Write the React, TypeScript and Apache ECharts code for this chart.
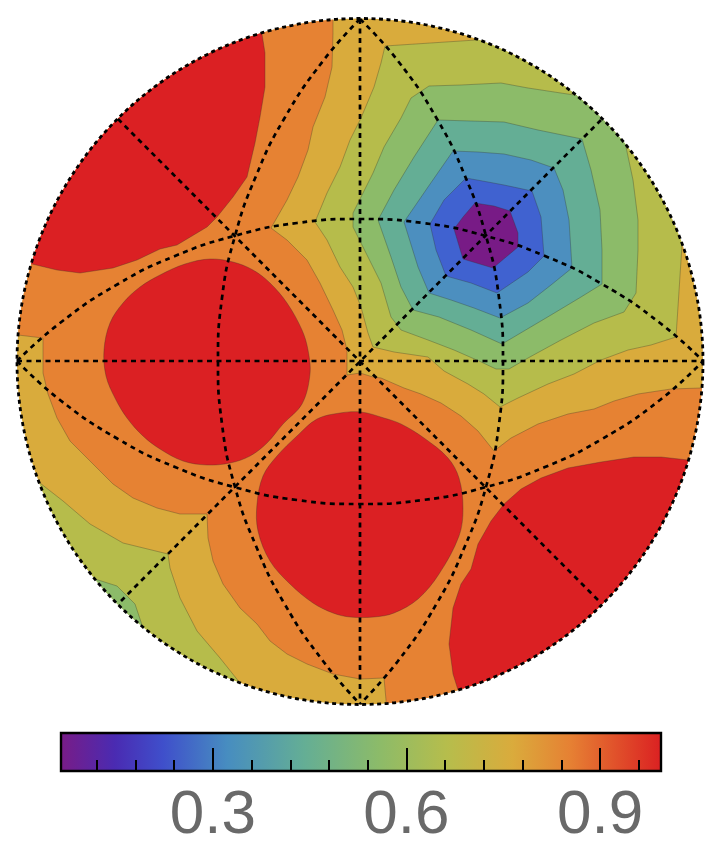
import React, { useEffect, useRef } from "react";
import * as echarts from "echarts";

type P = [number, number];

// Contour bands (picture units, y downward).
// Points outside the disc are cut off by the disc's clip.
const bandOrange: P[] = [[333,-10],[333,21],[333,33],[332,67],[325,97],[313,127],[308,150],[298,177],[287,200],[271,228],[287,240],[307,260],[320,283],[333,310],[342,330],[347,350],[347,375],[360,373],[373,377],[381,378],[404,388],[421,394],[441,403],[461,416],[478,431],[494,451],[511,438],[538,424],[568,414],[594,409],[614,401],[638,394],[671,389],[701,388],[735,388],[735,735],[386,735],[386,700],[384,678],[360,679],[333,674],[307,664],[287,654],[270,641],[257,624],[240,608],[223,584],[213,561],[208,538],[207,514],[180,514],[157,508],[133,498],[113,484],[93,464],[70,441],[57,418],[48,394],[43,373],[43,338],[18,335],[-15,335],[-15,-10]];
const redUpperLeft: P[] = [[262,-10],[262,34],[265,53],[265,87],[260,117],[255,143],[247,177],[233,197],[217,217],[207,227],[177,245],[160,249],[137,260],[113,268],[80,273],[57,270],[32,264],[-15,255],[-15,-10]];
const redLeft: P[] = [[104,350],[110,323],[123,303],[140,287],[160,275],[185,264],[210,259],[233,262],[253,270],[270,283],[287,303],[302,330],[308,350],[310,374],[302,404],[283,424],[267,443],[250,456],[230,463],[207,465],[183,461],[160,449],[143,436],[127,418],[115,398],[106,376]];
const redCentre: P[] = [[361,412],[340,413],[317,419],[297,436],[277,456],[263,476],[257,504],[258,531],[270,561],[290,584],[313,603],[333,613],[350,617],[374,617],[394,613],[418,599],[439,574],[459,536],[463,508],[459,478],[448,458],[424,438],[401,424],[384,418]];
const redLowerRight: P[] = [[688,460],[661,457],[634,457],[601,462],[568,468],[541,478],[521,489],[504,504],[491,521],[478,544],[471,569],[461,584],[453,608],[449,644],[453,674],[458,690],[465,735],[735,735],[735,470]];
const oliveUpper: P[] = [[476,40],[385,46],[381,63],[374,87],[361,118],[350,140],[340,167],[327,193],[315,222],[327,240],[340,267],[353,287],[361,307],[368,333],[373,347],[394,352],[428,357],[444,371],[468,384],[484,394],[500,407],[518,398],[548,384],[574,374],[601,360],[628,350],[651,345],[676,337],[678,307],[682,245],[735,245],[735,-10],[476,-10]];
const oliveLower: P[] = [[40,483],[63,501],[90,524],[123,543],[168,554],[170,568],[180,598],[197,631],[220,658],[240,683],[250,735],[-15,735],[-15,470]];
const greenUpper: P[] = [[626,147],[633,180],[638,220],[638,250],[636,293],[624,312],[594,323],[561,340],[528,358],[509,369],[496,369],[479,361],[454,350],[428,340],[401,330],[391,317],[381,283],[371,263],[361,243],[353,227],[353,213],[361,197],[373,173],[384,147],[401,118],[411,98],[429,86],[461,85],[501,83],[528,88],[574,95],[660,90]];
const greenLower: P[] = [[95,579],[117,586],[135,604],[143,628],[100,655],[70,600]];
const teal: P[] = [[438,120],[471,121],[504,122],[538,130],[582,139],[591,170],[600,210],[602,250],[602,284],[581,297],[551,315],[502,344],[471,330],[439,317],[413,310],[401,287],[391,257],[378,220],[394,190],[414,157]];
const steel: P[] = [[453,151],[478,152],[504,154],[531,160],[554,168],[563,190],[569,220],[572,268],[551,285],[528,303],[500,318],[474,308],[451,300],[429,293],[418,267],[404,222],[428,187]];
const blue: P[] = [[466,178],[488,182],[504,185],[532,191],[541,217],[544,256],[528,272],[497,293],[471,283],[446,276],[436,250],[430,224],[444,200]];
const purple: P[] = [[475,203],[494,206],[510,211],[518,233],[518,247],[493,268],[463,259],[454,229],[463,217]];

const bands: { pts: P[]; color: string; round: number }[] = [
  { pts: bandOrange, color: "#E68233", round: 0 },
  { pts: redUpperLeft, color: "#DB2023", round: 0 },
  { pts: redLeft, color: "#DB2023", round: 0.35 },
  { pts: redCentre, color: "#DB2023", round: 0.35 },
  { pts: redLowerRight, color: "#DB2023", round: 0 },
  { pts: oliveUpper, color: "#B6BC4B", round: 0 },
  { pts: oliveLower, color: "#B6BC4B", round: 0 },
  { pts: greenUpper, color: "#8CBB69", round: 0 },
  { pts: greenLower, color: "#8CBB69", round: 0 },
  { pts: teal, color: "#64AE95", round: 0 },
  { pts: steel, color: "#4C8FBF", round: 0 },
  { pts: blue, color: "#4062D0", round: 0 },
  { pts: purple, color: "#781B86", round: 0 },
];

// Disc
const discCentre: P = [360, 361.5];
const discRadius = 343;
const discColor = "#D9AB3C";

// Dashed guide lines
const straightH: P[] = [[17,361],[703,361]];
const straightV: P[] = [[360,19],[360,704]];
const diagA: P[] = [[118,119],[601,603]];
const diagB: P[] = [[601,120],[118,604]];
const arcTop: P[] = [[17,361],[60,323],[118,284],[175,256],[234,236],[297,223],[360,219],[423,223],[486,236],[545,256],[602,284],[660,323],[703,361]];
const arcBottom: P[] = [[17,361],[60,400],[118,439],[175,467],[234,487],[297,500],[360,504],[423,500],[486,487],[545,467],[602,439],[660,400],[703,361]];
const arcLeft: P[] = [[360,19],[323,61],[284,119],[256,176],[235,236],[222,298],[218,361],[222,424],[235,487],[256,546],[284,603],[323,661],[360,704]];
const arcRight: P[] = [[360,19],[398,61],[437,119],[465,176],[486,236],[499,298],[503,361],[499,424],[486,487],[465,546],[437,603],[398,661],[360,704]];
const guides: { pts: P[]; smooth: boolean }[] = [
  { pts: straightH, smooth: false },
  { pts: straightV, smooth: false },
  { pts: diagA, smooth: false },
  { pts: diagB, smooth: false },
  { pts: arcTop, smooth: true },
  { pts: arcBottom, smooth: true },
  { pts: arcLeft, smooth: true },
  { pts: arcRight, smooth: true },
];

// Colour bar
const barMin = 0.0646;
const barMax = 0.9945;
const minorTicks = [0.12,0.18,0.24,0.36,0.42,0.48,0.54,0.66,0.72,0.78,0.84,0.96];
const majorTicks = [0.3,0.6,0.9];
const barColors = ["#781C87","#4A2BB2","#3F4FCB","#478DC0","#64AE95","#8CBB69","#B6BD4C","#DAAB3C","#E68033","#DB2122"];
const barOffsets = [0, 0.09, 0.17, 0.277, 0.405, 0.53, 0.643, 0.753, 0.85, 1];

export default function App() {
  const ref = useRef<HTMLDivElement>(null);
  useEffect(() => {
    document.body.style.margin = "0";
    document.body.style.background = "#fff";
    const chart = echarts.init(ref.current!, undefined, { renderer: "svg" });
    const hiddenAxis = { show: false };
    const option: any = {
      animation: false,
      backgroundColor: "#fff",
      grid: [
        { left: 0, top: 0, width: 722, height: 850 },
        { left: 61, top: 733, width: 600, height: 38 },
      ],
      xAxis: [
        { type: "value", gridIndex: 0, min: 0, max: 722, ...hiddenAxis },
        {
          type: "value", gridIndex: 1, position: "bottom", min: barMin, max: barMax, z: 10,
          axisLine: { show: false }, splitLine: { show: false },
          axisTick: { show: true, inside: true, length: 11, customValues: minorTicks, lineStyle: { color: "#000", width: 2 } },
          axisLabel: { show: false },
        },
        {
          type: "value", gridIndex: 1, position: "bottom", min: barMin, max: barMax, z: 10,
          axisLine: { show: false }, splitLine: { show: false },
          axisTick: { show: true, inside: true, length: 23, customValues: majorTicks, lineStyle: { color: "#000", width: 2 } },
          axisLabel: {
            show: true, customValues: majorTicks, margin: 9,
            formatter: (v: number) => v.toFixed(1),
            fontFamily: "Liberation Sans", fontSize: 62, color: "#696969",
          },
        },
      ],
      yAxis: [
        { type: "value", gridIndex: 0, min: 0, max: 850, inverse: true, ...hiddenAxis },
        { type: "value", gridIndex: 1, min: 0, max: 1, ...hiddenAxis },
      ],
      series: [
        // base disc
        {
          type: "custom", xAxisIndex: 0, yAxisIndex: 0, z: 1, silent: true, clip: false,
          data: [[discCentre[0], discCentre[1], discRadius]],
          encode: { x: 0, y: 1 },
          renderItem: (params: any, api: any) => {
            const c = api.coord([api.value(0), api.value(1)]);
            return { type: "circle", shape: { cx: c[0], cy: c[1], r: api.value(2) }, style: { fill: discColor } };
          },
        },
        // filled contour bands
        {
          type: "custom", xAxisIndex: 0, yAxisIndex: 0, z: 2, silent: true, clip: false,
          data: bands.map((_, i) => [i]),
          encode: { x: -1, y: -1 },
          renderItem: (params: any, api: any) => {
            const band = bands[api.value(0)];
            const c = api.coord(discCentre);
            return {
              type: "polygon",
              shape: { points: band.pts.map((p) => api.coord(p)), smooth: band.round },
              style: { fill: band.color, stroke: "rgba(50,50,40,0.4)", lineWidth: 0.8 },
              clipPath: { type: "circle", shape: { cx: c[0], cy: c[1], r: discRadius } },
            };
          },
        },
        // guide lines
        ...guides.map((g) => ({
          type: "line", xAxisIndex: 0, yAxisIndex: 0, z: 5, silent: true, clip: false,
          data: g.pts, smooth: g.smooth, showSymbol: false, symbol: "none",
          lineStyle: { color: "#000", width: 2.7, type: [5, 4.5] },
        })),
        // disc outline
        {
          type: "custom", xAxisIndex: 0, yAxisIndex: 0, z: 6, silent: true, clip: false,
          data: [[discCentre[0], discCentre[1], discRadius]],
          encode: { x: 0, y: 1 },
          renderItem: (params: any, api: any) => {
            const c = api.coord([api.value(0), api.value(1)]);
            return {
              type: "circle",
              shape: { cx: c[0], cy: c[1], r: api.value(2) },
              style: { fill: "none", stroke: "#000", lineWidth: 2.8, lineDash: [4, 3.5] },
            };
          },
        },
        // colour bar
        {
          type: "custom", xAxisIndex: 1, yAxisIndex: 1, z: 1, silent: true, clip: false,
          data: [[barMin, barMax]],
          encode: { x: [0, 1] },
          renderItem: (params: any, api: any) => {
            const a = api.coord([api.value(0), 1]);
            const b = api.coord([api.value(1), 0]);
            return {
              type: "rect",
              shape: { x: a[0], y: a[1], width: b[0] - a[0], height: b[1] - a[1] },
              style: {
                fill: new echarts.graphic.LinearGradient(0, 0, 1, 0,
                  barColors.map((color, i) => ({ offset: barOffsets[i], color }))),
                stroke: "#000", lineWidth: 2.4,
              },
            };
          },
        },
      ],
    };
    chart.setOption(option);
    return () => chart.dispose();
  }, []);
  return <div ref={ref} style={{ position: "fixed", left: 0, top: 0, width: 722, height: 850 }} />;
}
